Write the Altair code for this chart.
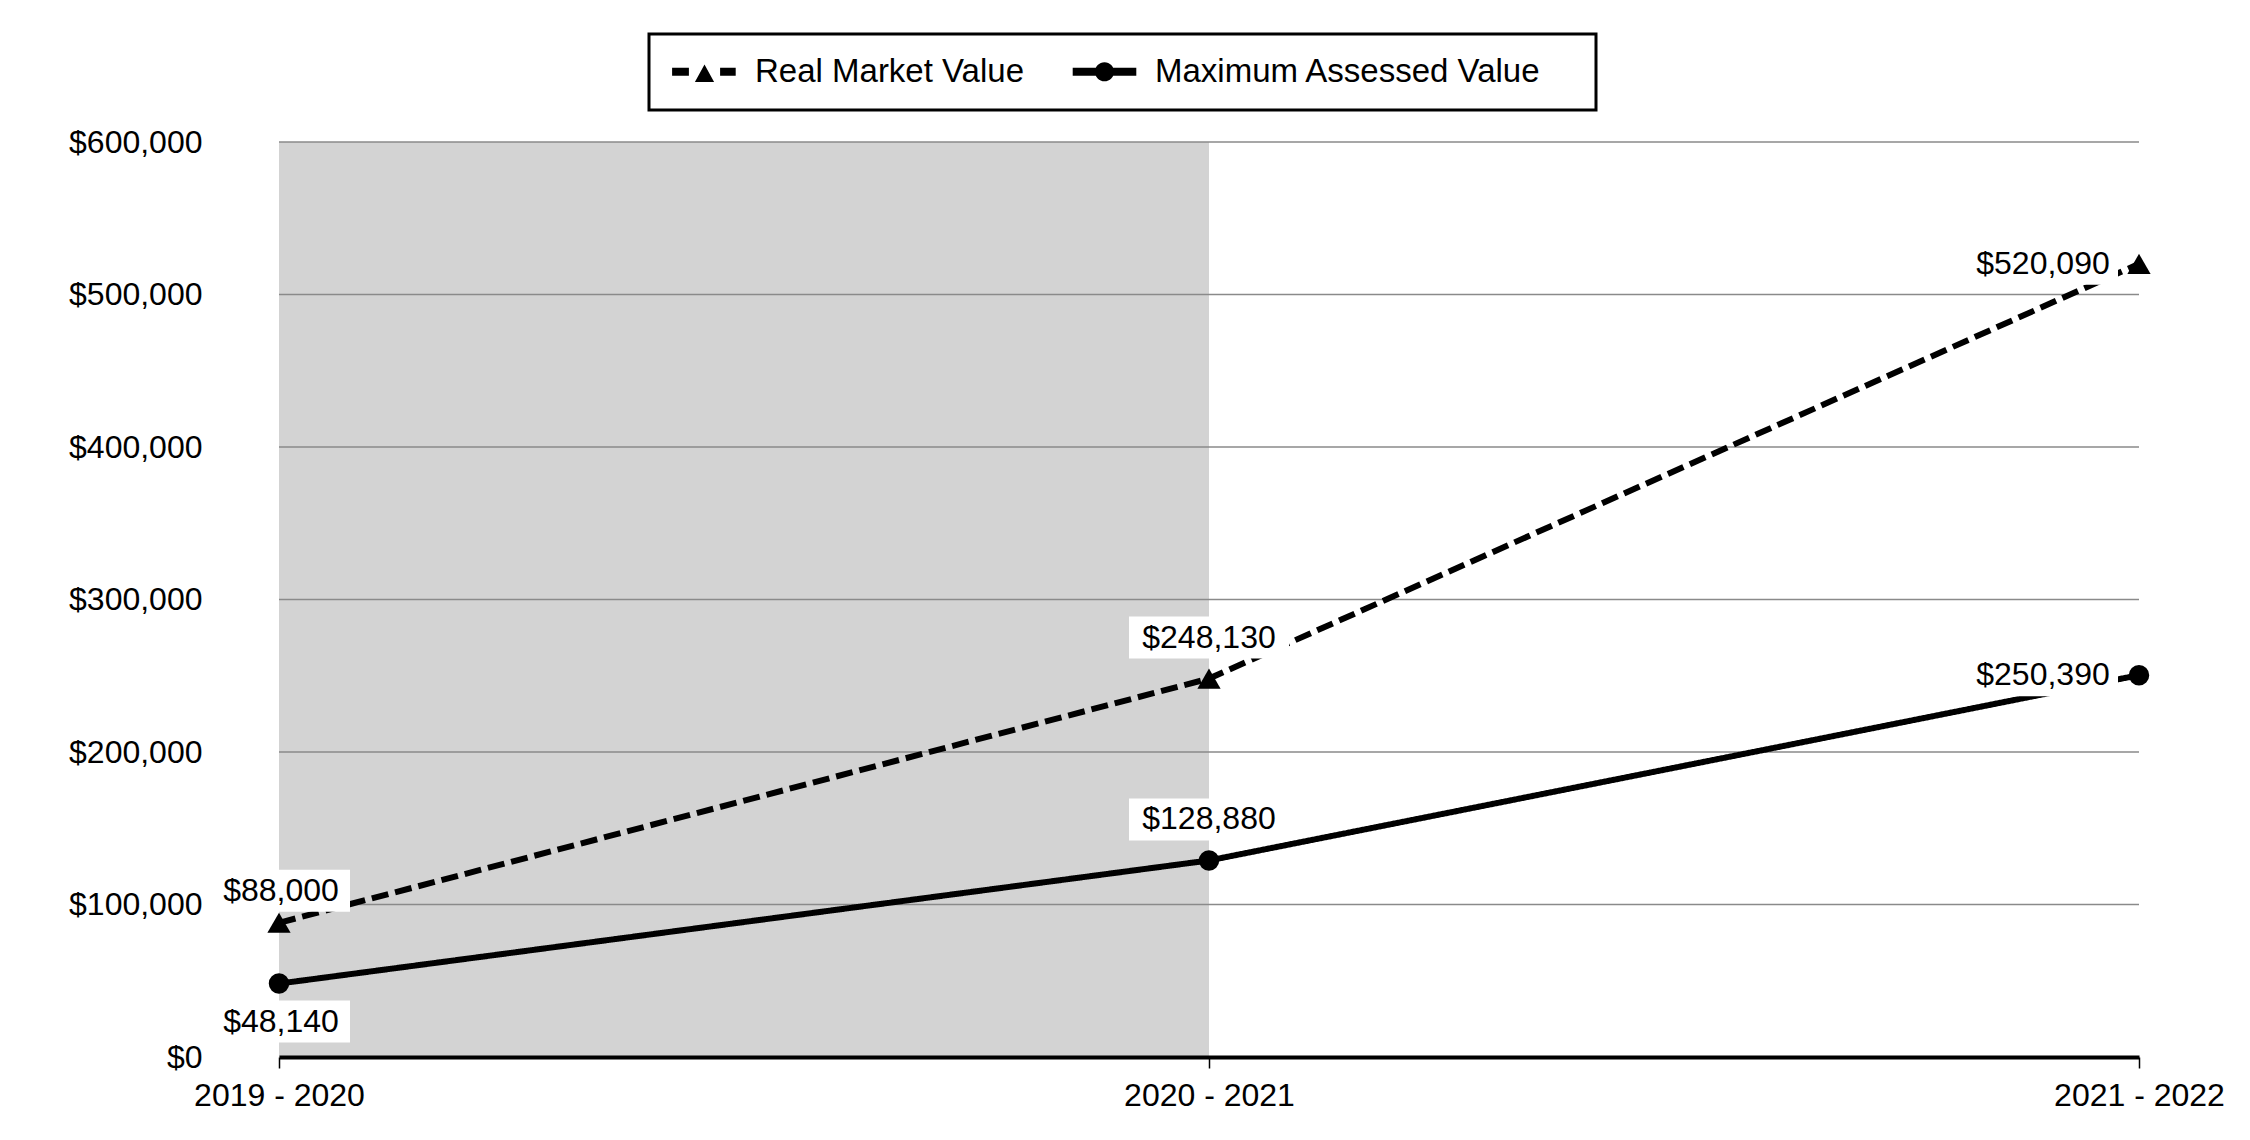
import json
import altair as alt
import pandas as pd

# ---- data ----
years = ["2019 - 2020", "2020 - 2021", "2021 - 2022"]
real_market = [88000, 248130, 520090]
max_assessed = [48140, 128880, 250390]
series_names = ["Real Market Value", "Maximum Assessed Value"]
markers = ["triangle-up", "circle"]
y_ticks = [0, 100000, 200000, 300000, 400000, 500000, 600000]
shade_from, shade_to = 0, 1  # shaded span: 2019-2020 .. 2020-2021

rows = []
for s_name, vals in zip(series_names, [real_market, max_assessed]):
    for i, v in enumerate(vals):
        rows.append({"idx": i, "year": years[i], "series": s_name,
                     "value": v, "label": f"${v:,.0f}"})
df = pd.DataFrame(rows)

FONT = "Liberation Sans"
W, H = 1860, 915

x_scale = alt.Scale(domain=[0, len(years) - 1], nice=False, zero=False)
y_scale = alt.Scale(domain=[0, 600000], nice=False)

x_axis = alt.Axis(values=list(range(len(years))),
                  labelExpr=f"{json.dumps(years)}[datum.value]",
                  title=None, grid=False, labelAngle=0, labelFlush=False,
                  labelOverlap=False, tickSize=11, tickColor="black",
                  tickWidth=1.5, domainColor="black", domainWidth=4,
                  labelFontSize=32, labelColor="black", labelPadding=12,
                  labelFont=FONT, zindex=1)
y_axis = alt.Axis(values=y_ticks, format="$,.0f", title=None, grid=False,
                  ticks=False, domain=False, labelPadding=77,
                  labelFontSize=32, labelColor="black", labelFont=FONT)

X = alt.X("idx:Q", scale=x_scale, axis=x_axis)
Y = alt.Y("value:Q", scale=y_scale, axis=y_axis)

# shaded background span
shade_df = pd.DataFrame({"a": [shade_from], "b": [shade_to],
                         "lo": [y_ticks[0]], "hi": [y_ticks[-1]]})
shade = alt.Chart(shade_df).mark_rect(color="#d3d3d3").encode(
    x=alt.X("a:Q", scale=x_scale, axis=x_axis), x2="b",
    y=alt.Y("lo:Q", scale=y_scale, axis=y_axis), y2="hi")

# horizontal gridlines
grid_df = pd.DataFrame({"value": y_ticks[1:]})
grid = alt.Chart(grid_df).mark_rule(color="#8a8a8a", strokeWidth=1.5).encode(y=Y)

base = alt.Chart(df)

dash_styles = [[17, 7], [1, 0]]
line_layers = [
    base.transform_filter(alt.datum.series == s_name).mark_line(
        color="black", strokeWidth=6, strokeDash=dash
    ).encode(x=X, y=Y)
    for s_name, dash in zip(series_names, dash_styles)
]

# legend symbols: line + marker drawn as custom paths (1 unit = 12px)
rmv_path = ("M-2.7,-0.33L-1.3,-0.33L-1.3,0.33L-2.7,0.33Z"
            "M-0.8,0.85L0,-0.6L0.8,0.85Z"
            "M1.3,-0.33L2.6,-0.33L2.6,0.33L1.3,0.33Z")
mav_path = ("M-2.65,-0.33L-0.7,-0.33L-0.7,0.33L-2.65,0.33Z"
            "M0.7,-0.33L2.65,-0.33L2.65,0.33L0.7,0.33Z"
            "M-0.8,0A0.8,0.8 0 1,1 0.8,0A0.8,0.8 0 1,1 -0.8,0Z")

legend_layer = base.mark_point(opacity=0, filled=True, color="black", size=576).encode(
    x=X, y=Y,
    shape=alt.Shape("series:N",
                    scale=alt.Scale(domain=series_names, range=[rmv_path, mav_path]),
                    legend=alt.Legend(title="\u00a0", titleOrient="right", titlePadding=34,
                                      titleFontSize=33, titleColor="white",
                                      orient="none", legendX=370, legendY=-108,
                                      direction="horizontal", symbolSize=576,
                                      symbolOpacity=1, symbolFillColor="black",
                                      symbolStrokeColor="black", symbolStrokeWidth=0,
                                      labelFontSize=33, labelFont=FONT, labelColor="black",
                                      labelLimit=900,
                                      padding=21, symbolOffset=18, labelOffset=34,
                                      columnPadding=45, fillColor="white",
                                      strokeColor="black")))


def value_label(series, idx, dx, dy, w, h=42):
    sub = base.transform_filter(
        (alt.datum.series == series) & (alt.datum.idx == idx))
    box = sub.mark_rect(color="white", xOffset=dx - w / 2, x2Offset=dx + w / 2,
                        yOffset=dy - h / 2, y2Offset=dy + h / 2).encode(
        x=X, x2="idx", y=Y, y2="value")
    txt = sub.mark_text(fontSize=32, font=FONT, color="black", align="center",
                        baseline="middle", dx=dx, dy=dy).encode(
        x=X, y=Y, text="label:N")
    return [box, txt]


label_layers = []
label_layers += value_label(series_names[0], 0, 2, -32, 138)
label_layers += value_label(series_names[1], 0, 2, 38, 138)
label_layers += value_label(series_names[0], 1, 0, -41, 160)
label_layers += value_label(series_names[1], 1, 0, -41, 160)
label_layers += value_label(series_names[0], 2, -96, 0, 150)
label_layers += value_label(series_names[1], 2, -96, 0, 150)

marker_sizes = {"triangle-up": 540, "circle": 420}
point_layers = [
    base.transform_filter(alt.datum.series == s_name).mark_point(
        filled=True, opacity=1, color="black", shape=mk, size=marker_sizes[mk]
    ).encode(x=X, y=Y)
    for s_name, mk in zip(series_names, markers)
]

chart = alt.layer(shade, grid, *line_layers, legend_layer, *label_layers, *point_layers).properties(
    width=W, height=H,
    padding={"left": 271, "top": 134, "right": 95, "bottom": 70},
    autosize=alt.AutoSizeParams(type="none"),
).configure(font=FONT, background="white").configure_view(
    strokeWidth=0
).configure_legend(strokeWidth=3)

chart.save("out.html", embed_options={"renderer": "svg", "actions": False})
